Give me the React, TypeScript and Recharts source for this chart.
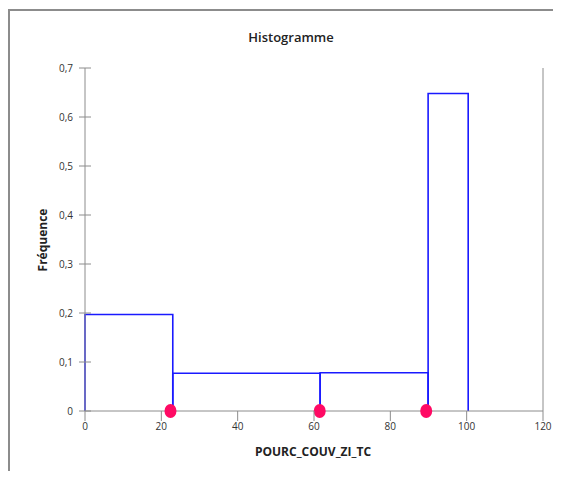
import { ComposedChart, XAxis, YAxis, ReferenceArea, ReferenceLine, Scatter } from "recharts";

// histogram bins (class edges) and their relative frequency
const binEdges = [0, 23.0, 61.6, 89.9, 100.4];
const frequencies = [0.197, 0.077, 0.078, 0.648];

// pink markers sitting on the x axis
const markerX = [22.4, 61.5, 89.4];

const xTicks = [0, 20, 40, 60, 80, 100, 120];
const yTicks = [0, 0.1, 0.2, 0.3, 0.4, 0.5, 0.6, 0.7];

const markers = markerX.map((x) => ({ x, y: 0 }));

const FONT = "'Open Sans', 'Liberation Sans', sans-serif";
const AXIS = "#8c8c8c";

function YTick(props: any) {
  const { x, y, payload } = props;
  const label = String(payload.value).replace(".", ",");
  return (
    <g>
      <line x1={x + 6} x2={x + 18} y1={y} y2={y} stroke={AXIS} />
      <text x={x} y={y} dy="0.35em" textAnchor="end" fontSize={10} fill="#333" fontFamily={FONT}>
        {label}
      </text>
    </g>
  );
}

function XTick(props: any) {
  const { x, y, payload } = props;
  return (
    <g>
      <line x1={x} x2={x} y1={y - 11} y2={y - 1} stroke={AXIS} />
      <text x={x} y={y} dy="0.75em" textAnchor="middle" fontSize={10} fill="#333" fontFamily={FONT}>
        {payload.value}
      </text>
    </g>
  );
}

// open-bottomed outline so the x axis stays grey under the bars
function BinOutline(props: any) {
  const { x, y, width, height } = props;
  const b = y + height;
  return (
    <path
      d={`M${x},${b} L${x},${y} L${x + width},${y} L${x + width},${b}`}
      fill="none"
      stroke="#1a1aff"
      strokeWidth={1.6}
    />
  );
}

function Dot(props: any) {
  const { cx, cy } = props;
  return <ellipse cx={cx} cy={cy} rx={6} ry={7} fill="#ff0a64" />;
}

export default function App() {
  return (
    <div
      style={{
        position: "relative",
        width: 561,
        height: 479,
        margin: -8,
        overflow: "hidden",
        background: "#fff",
        fontFamily: FONT,
      }}
    >
      <div style={{ position: "absolute", left: 0, top: 0 }}>
        <ComposedChart width={561} height={479} margin={{ top: 68, right: 18, bottom: 38, left: 25 }}>
          <XAxis
            type="number"
            dataKey="x"
            domain={[0, 120]}
            ticks={xTicks}
            interval={0}
            stroke={AXIS}
            tickLine={false}
            tickSize={5}
            tickMargin={6}
            tick={<XTick />}
            height={30}
          />
          <YAxis
            type="number"
            dataKey="y"
            domain={[0, 0.7]}
            ticks={yTicks}
            interval={0}
            stroke={AXIS}
            tickLine={false}
            tickSize={6}
            tickMargin={6}
            tick={<YTick />}
            width={60}
          />
          <ReferenceLine x={120} stroke={AXIS} />
          {frequencies.map((f, i) => (
            <ReferenceArea
              key={i}
              x1={binEdges[i]}
              x2={binEdges[i + 1]}
              y1={0}
              y2={f}
              ifOverflow="visible"
              shape={<BinOutline />}
            />
          ))}
          <Scatter data={markers} dataKey="y" shape={<Dot />} isAnimationActive={false} />
        </ComposedChart>
      </div>
      {/* outer frame: top and left edges only */}
      <div style={{ position: "absolute", left: 8, top: 9, width: 545, height: 2, background: "#8c8c8c" }} />
      <div style={{ position: "absolute", left: 8, top: 9, width: 2, height: 462, background: "#8c8c8c" }} />
      <div
        style={{
          position: "absolute",
          left: 291,
          top: 28,
          transform: "translateX(-50%)",
          whiteSpace: "nowrap",
          fontSize: 13,
          fontWeight: 600,
          color: "#222",
        }}
      >
        Histogramme
      </div>
      <div
        style={{
          position: "absolute",
          left: 313,
          top: 443,
          transform: "translateX(-50%)",
          whiteSpace: "nowrap",
          fontSize: 12,
          fontWeight: 700,
          color: "#222",
        }}
      >
        POURC_COUV_ZI_TC
      </div>
      <div
        style={{
          position: "absolute",
          left: 42,
          top: 240,
          transform: "translate(-50%, -50%) rotate(-90deg)",
          fontSize: 12,
          fontWeight: 700,
          color: "#222",
          whiteSpace: "nowrap",
        }}
      >
        Fréquence
      </div>
    </div>
  );
}
